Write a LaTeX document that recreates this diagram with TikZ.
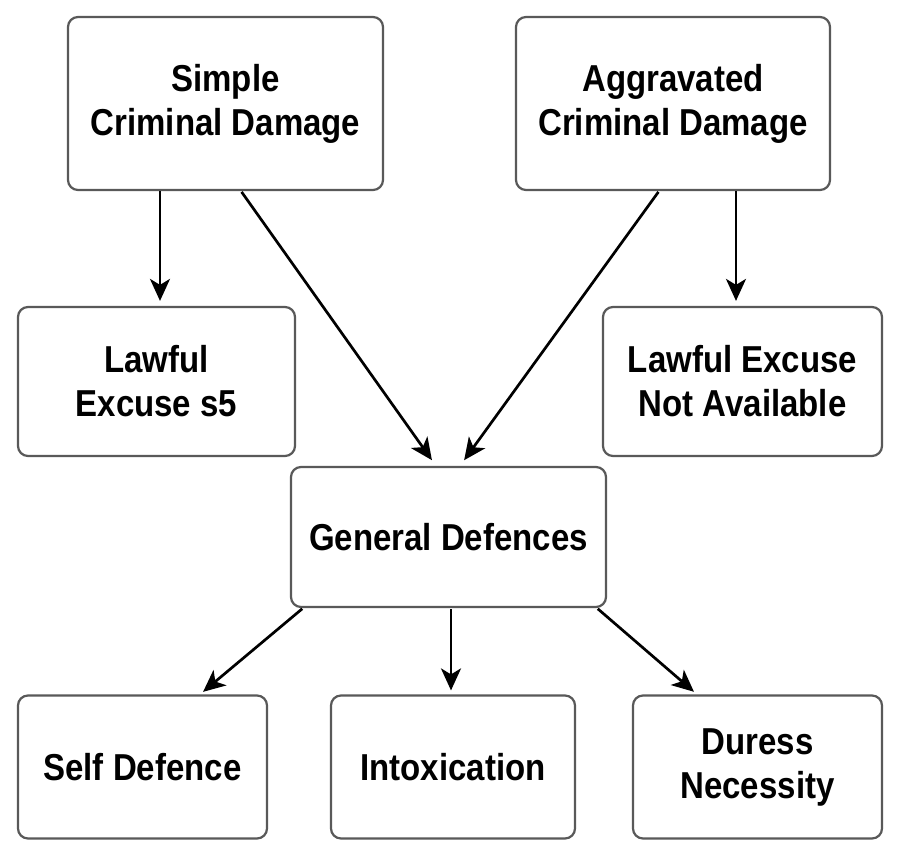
\documentclass[tikz,border=0pt]{standalone}
\usepackage{fontspec}
\setmainfont[FakeStretch=0.88]{Liberation Sans}
\usetikzlibrary{arrows.meta}
\tikzset{
  box/.style={draw=black!65, line width=2.2pt, rounded corners=10pt, fill=white,
    align=center, font=\fontsize{37.5}{44}\selectfont\bfseries, inner sep=0pt},
  arr/.style={draw=black, line width=2.7pt, arrows={-Stealth[length=22pt,width=20pt,inset=6pt]}}}
\begin{document}
\begin{tikzpicture}[x=1pt,y=-1pt]
\useasboundingbox[fill=white] (0,0) rectangle (900,860);
\node[box, minimum width=315pt, minimum height=173pt] (simple) at (225.5,103.5) {Simple\\Criminal Damage};
\node[box, minimum width=314pt, minimum height=173pt] (aggr) at (673,103.5) {Aggravated\\Criminal Damage};
\node[box, minimum width=277pt, minimum height=149pt] (lawful) at (156.5,381.5) {Lawful\\Excuse s5};
\node[box, minimum width=279pt, minimum height=149pt] (notavail) at (742.5,381.5) {Lawful Excuse\\Not Available};
\node[box, minimum width=315pt, minimum height=140pt] (general) at (448.5,537) {General Defences};
\node[box, minimum width=249pt, minimum height=143pt] (self) at (142.5,767) {Self Defence};
\node[box, minimum width=244pt, minimum height=143pt] (intox) at (453,767) {Intoxication};
\node[box, minimum width=249pt, minimum height=143pt] (duress) at (757.5,767) {Duress\\Necessity};
\draw[arr, shorten >=5pt] ([xshift=-65.5pt]simple.south) -- ([xshift=3.5pt]lawful.north);
\draw[arr, shorten >=7pt, shorten <=1pt] ([xshift=15.5pt]simple.south) -- ([xshift=-12.5pt]general.north);
\draw[arr, shorten >=7pt, shorten <=1pt] ([xshift=-14pt]aggr.south) -- ([xshift=11.5pt]general.north);
\draw[arr, shorten >=5pt] ([xshift=63pt]aggr.south) -- ([xshift=-6.5pt]notavail.north);
\draw[arr, shorten >=4pt, shorten <=1pt] ([xshift=-145.5pt]general.south) -- ([xshift=57.5pt]self.north);
\draw[arr, shorten >=4pt, shorten <=1pt] ([xshift=2.5pt]general.south) -- ([xshift=-2pt]intox.north);
\draw[arr, shorten >=4pt, shorten <=1pt] ([xshift=148.5pt]general.south) -- ([xshift=-60.5pt]duress.north);
\end{tikzpicture}
\end{document}
